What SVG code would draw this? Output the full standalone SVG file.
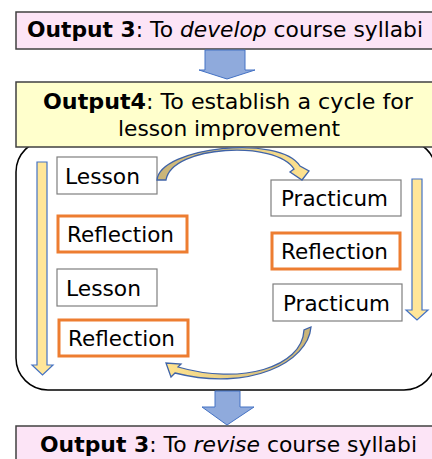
<svg xmlns="http://www.w3.org/2000/svg" width="432" height="459" viewBox="0 0 432 459">
<style>
text{font-family:"DejaVu Sans","Verdana",sans-serif;font-size:21px;fill:#000}
.b{font-weight:bold}
.i{font-style:italic}
.pink{fill:#FCE4F6;stroke:#404040;stroke-width:1.5}
.yel{fill:#FFFFCC;stroke:#404040;stroke-width:1.5}
.gray{fill:#fff;stroke:#7F7F7F;stroke-width:1.2}
.org{fill:#fff;stroke:#ED7D31;stroke-width:3}
.blue{fill:#8FAADC;stroke:#4472C4;stroke-width:1}
.ybar{fill:#FFE699;stroke:#4472C4;stroke-width:1.2}
.curve{stroke:#3F63A8;stroke-width:1.3}
</style>
<defs>
<linearGradient id="g1" x1="0" y1="0" x2="1" y2="0">
<stop offset="0" stop-color="#C9B478"/><stop offset="1" stop-color="#FFE38F"/>
</linearGradient>
<linearGradient id="g2" x1="1" y1="0" x2="0" y2="0">
<stop offset="0" stop-color="#C9B478"/><stop offset="1" stop-color="#FFE38F"/>
</linearGradient>
</defs>

<g id="cycle-frame">
<rect x="16" y="140" width="420" height="250" rx="32" ry="32" fill="#fff" stroke="#000" stroke-width="1.5"/>
</g>

<g id="output3-develop">
<rect class="pink" x="16" y="12" width="430" height="37"/>
<text x="27" y="37" textLength="396" lengthAdjust="spacingAndGlyphs"><tspan class="b">Output 3</tspan>: To <tspan class="i">develop</tspan> course syllabi</text>
</g>

<g id="output4">
<rect class="yel" x="16" y="82" width="430" height="65"/>
<text x="43" y="109" textLength="370" lengthAdjust="spacingAndGlyphs"><tspan class="b">Output4</tspan>: To establish a cycle for</text>
<text x="118" y="136" textLength="222" lengthAdjust="spacingAndGlyphs">lesson improvement</text>
</g>

<g id="output3-revise">
<rect class="pink" x="16" y="426" width="430" height="40"/>
<text x="40" y="452" textLength="377" lengthAdjust="spacingAndGlyphs"><tspan class="b">Output 3</tspan>: To <tspan class="i">revise</tspan> course syllabi</text>
</g>

<g id="lesson1">
<rect class="gray" x="57" y="157" width="100" height="37"/>
<text x="65" y="184" textLength="75" lengthAdjust="spacingAndGlyphs">Lesson</text>
</g>
<g id="reflection1">
<rect class="org" x="58" y="216" width="129" height="36"/>
<text x="67" y="242" textLength="107" lengthAdjust="spacingAndGlyphs">Reflection</text>
</g>
<g id="lesson2">
<rect class="gray" x="57" y="269" width="100" height="37"/>
<text x="66" y="296" textLength="75" lengthAdjust="spacingAndGlyphs">Lesson</text>
</g>
<g id="reflection2">
<rect class="org" x="59" y="320" width="129" height="36"/>
<text x="68" y="346" textLength="107" lengthAdjust="spacingAndGlyphs">Reflection</text>
</g>
<g id="practicum1">
<rect class="gray" x="271" y="180" width="130" height="36"/>
<text x="281" y="206" textLength="107" lengthAdjust="spacingAndGlyphs">Practicum</text>
</g>
<g id="reflection3">
<rect class="org" x="272" y="233" width="128" height="36"/>
<text x="281" y="259" textLength="107" lengthAdjust="spacingAndGlyphs">Reflection</text>
</g>
<g id="practicum2">
<rect class="gray" x="273" y="284" width="129" height="37"/>
<text x="283" y="311" textLength="107" lengthAdjust="spacingAndGlyphs">Practicum</text>
</g>

<g id="connectors">
<path class="blue" d="M205,50 H245 V70 H255 L227,79 L199,70 H205 Z"/>
<path class="blue" d="M215,391 H240 V407 H254 L227,425 L202,407 H215 Z"/>
<path class="ybar" d="M37,162 H47 V365 H53 L42.5,375 L32,365 H37 Z"/>
<path class="ybar" d="M412,179 H422 V310 H428 L417,320 L406,310 H412 Z"/>
<path class="curve" fill="url(#g1)" d="M157,180 C160,147 280,134 300,166 L309,171 L302,180 L290,172 L294,169 C276,140 172,145 166,180 Z"/>
<path class="curve" fill="url(#g2)" d="M311,327 C308,362 250,392 175,373 L171,377 L166,363 L181,364 L178,367 C240,385 302,368 304,330 Z"/>
</g>
</svg>
